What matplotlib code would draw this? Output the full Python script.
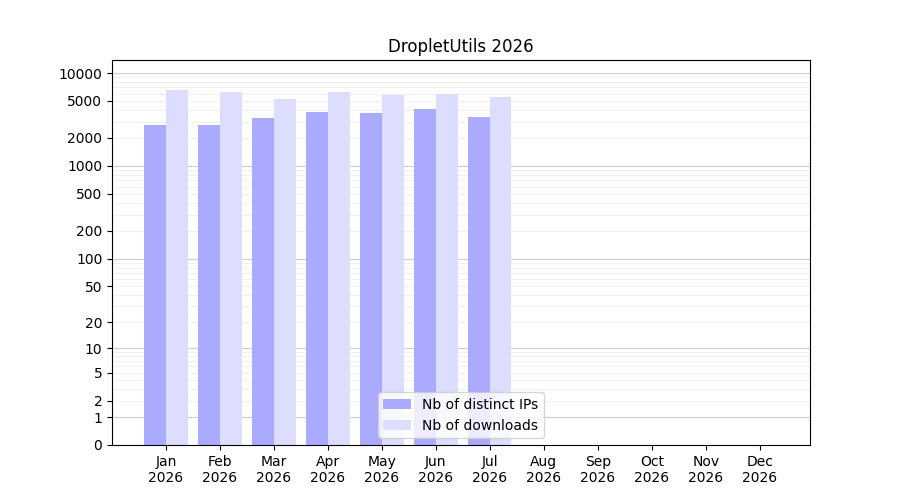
import numpy as np
import matplotlib
matplotlib.use("Agg")
import matplotlib.pyplot as plt
from matplotlib.ticker import FixedLocator

months = ["Jan", "Feb", "Mar", "Apr", "May", "Jun", "Jul", "Aug", "Sep", "Oct", "Nov", "Dec"]
ips = [2770, 2770, 3300, 3840, 3750, 4140, 3390, 0, 0, 0, 0, 0]
downloads = [6520, 6300, 5200, 6300, 5750, 5900, 5470, 0, 0, 0, 0, 0]

def fwd(y):
    return np.log10(np.maximum(y, 0) + 1)

def inv(y):
    return 10 ** y - 1

fig, ax = plt.subplots(figsize=(9, 5), dpi=100)
fig.subplots_adjust(left=0.1245, right=0.9, top=0.88, bottom=0.11)
x = np.arange(12)
ax.bar(x - 0.2, ips, width=0.4, color="#aaaaff", label="Nb of distinct IPs")
ax.bar(x + 0.2, downloads, width=0.4, color="#ddddff", label="Nb of downloads")

ax.set_yscale("function", functions=(fwd, inv))
ax.set_ylim(0, 13800)
ax.set_xlim(-1, 11.93)
major = [0, 1, 2, 5, 10, 20, 50, 100, 200, 500, 1000, 2000, 5000, 10000]
ax.yaxis.set_major_locator(FixedLocator(major))
ax.set_yticklabels([str(v) for v in major])
minor = [m * 10 ** e for e in range(0, 4) for m in range(2, 10)]
ax.yaxis.set_minor_locator(FixedLocator(minor))
ax.tick_params(axis="y", which="minor", length=0)
for v in [1, 10, 100, 1000, 10000]:
    ax.axhline(v, color="#cccccc", lw=0.8, zorder=0)
for v in minor:
    ax.axhline(v, color="#eeeeee", lw=0.6, zorder=0)
ax.set_axisbelow(True)

ax.set_xticks(x)
ax.set_xticklabels([f"{m}\n2026" for m in months])
ax.set_title("DropletUtils 2026")
ax.legend(loc="lower center")
fig.savefig("out.png")
